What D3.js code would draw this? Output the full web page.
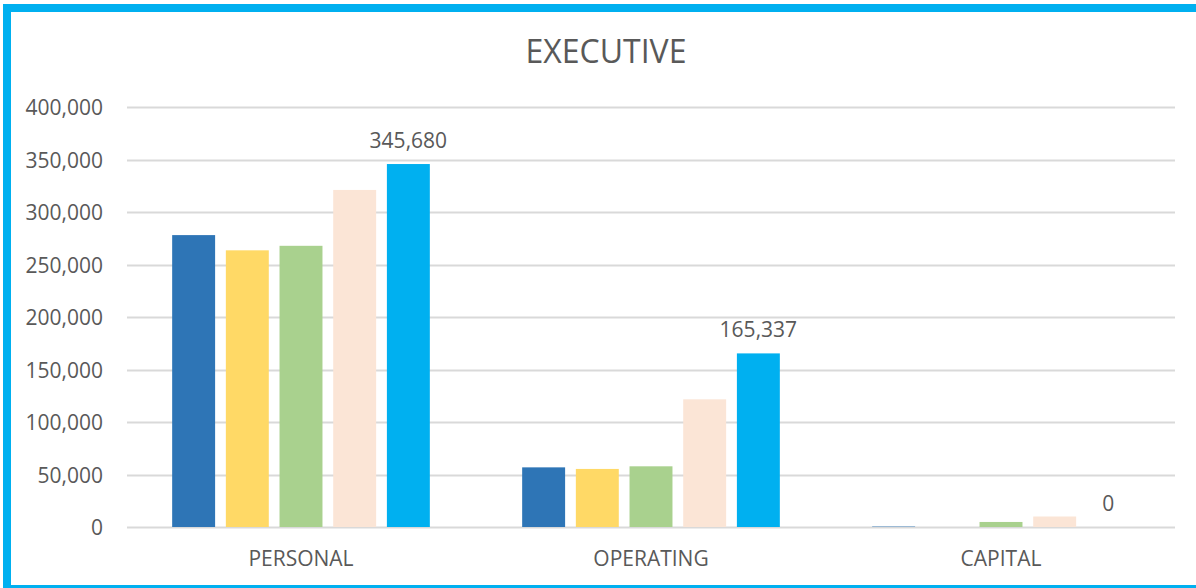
<!DOCTYPE html>
<html>
<head>
<meta charset="utf-8">
<script src="https://cdn.jsdelivr.net/npm/d3@7"></script>
<style>
  html, body { margin: 0; padding: 0; background: #fff; }
  svg { display: block; }
  text { font-family: "Open Sans", sans-serif; fill: #595959; }
</style>
</head>
<body>
<svg id="chart" width="1196" height="588"></svg>
<script>
const title = "EXECUTIVE";
const categories = ["PERSONAL", "OPERATING", "CAPITAL"];
const seriesNames = ["S1", "S2", "S3", "S4", "S5"];
const seriesColors = ["#2E75B6", "#FFD966", "#A9D18E", "#FBE5D6", "#00B0F0"];
const s1 = [278000, 56800, 400];
const s2 = [263500, 55300, 0];
const s3 = [267800, 57800, 4800];
const s4 = [321000, 121600, 10000];
const s5 = [345680, 165337, 0];
const yTicks = [0, 50000, 100000, 150000, 200000, 250000, 300000, 350000, 400000];
const seriesValues = [s1, s2, s3, s4, s5];
const labeledSeries = 4;

const W = 1196, H = 588;
const svg = d3.select("#chart");

// frame
svg.append("rect").attr("x", 0).attr("y", 0).attr("width", W).attr("height", H).attr("fill", "#fff");
svg.append("rect").attr("x", 3).attr("y", 4).attr("width", 8).attr("height", H - 4).attr("fill", "#00B0F0");
svg.append("rect").attr("x", 3).attr("y", 4).attr("width", W - 3).attr("height", 8).attr("fill", "#00B0F0");
svg.append("rect").attr("x", 3).attr("y", 585).attr("width", W - 3).attr("height", 3).attr("fill", "#00B0F0");

const plotLeft = 126, plotRight = 1176, plotTop = 107, plotBottom = 527;

const y = d3.scaleLinear().domain([0, 400000]).range([plotBottom, plotTop]);
const x0 = d3.scaleBand().domain(categories).range([plotLeft, plotRight]).padding(0);
const x1 = d3.scaleBand().domain(seriesNames).range([0, x0.bandwidth()])
  .paddingInner(0.2).paddingOuter(0.86);

const fmt = d3.format(",");

// gridlines
const grid = svg.append("g");
grid.selectAll("line").data(yTicks).join("line")
  .attr("x1", 127).attr("x2", 1175)
  .attr("y1", d => Math.round(y(d)) + 0.5).attr("y2", d => Math.round(y(d)) + 0.5)
  .attr("stroke", "#D9D9D9").attr("stroke-width", 2);

// y axis
const yAxis = d3.axisLeft(y).tickValues(yTicks).tickFormat(fmt).tickSize(0).tickPadding(0);
const yg = svg.append("g").attr("transform", "translate(103,0)").call(yAxis);
yg.select(".domain").remove();
yg.selectAll("text").attr("font-size", 21).attr("font-family", "Open Sans").attr("fill", "#595959")
  .attr("dy", "0.36em");

// bars
const groups = svg.append("g").selectAll("g").data(categories).join("g")
  .attr("transform", d => `translate(${x0(d)},0)`);

groups.selectAll("rect").data((c, ci) => seriesNames.map((s, si) => ({s, si, v: seriesValues[si][ci]})))
  .join("rect")
  .attr("x", d => x1(d.s))
  .attr("width", x1.bandwidth())
  .attr("y", d => y(d.v))
  .attr("height", d => y(0) - y(d.v))
  .attr("fill", d => seriesColors[d.si]);

// data labels for last series
groups.append("text")
  .attr("x", () => x1(seriesNames[labeledSeries]) + x1.bandwidth() / 2)
  .attr("y", (c, ci) => y(seriesValues[labeledSeries][ci]) - 16)
  .attr("text-anchor", "middle")
  .attr("font-size", 21)
  .attr("fill", "#404040")
  .text((c, ci) => fmt(seriesValues[labeledSeries][ci]));

// x axis labels
const xAxis = d3.axisBottom(x0).tickSize(0).tickPadding(0);
const xg = svg.append("g").attr("transform", `translate(0,${plotBottom})`).call(xAxis);
xg.select(".domain").remove();
xg.selectAll("text").attr("font-size", 21).attr("font-family", "Open Sans").attr("fill", "#595959")
  .attr("dy", null).attr("y", 39);

// title
svg.append("text").attr("x", 606).attr("y", 63).attr("text-anchor", "middle")
  .attr("font-size", 32).attr("fill", "#595959").text(title);
</script>
</body>
</html>
